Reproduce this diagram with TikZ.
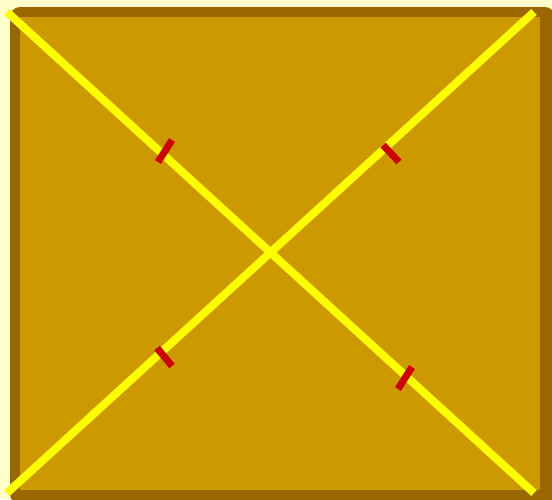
\documentclass[tikz,border=0pt]{standalone}
\definecolor{pale}{HTML}{FFFFCC}
\definecolor{frame}{HTML}{996600}
\definecolor{gold}{HTML}{CC9900}
\definecolor{diag}{HTML}{FFFF00}
\definecolor{tickred}{HTML}{CC0000}
\tikzset{
  diagline/.style={draw=diag,line width=8pt,line cap=butt},
  tickmark/.style={draw=tickred,line width=7pt,line cap=butt}
}
\begin{document}
\begin{tikzpicture}[x=1pt,y=-1pt]
\useasboundingbox (0,0) rectangle (552,499);
\fill[pale] (0,0) rectangle (552,499);
\fill[frame,rounded corners=10pt] (10,7) rectangle (555,504);
\fill[gold] (20,17) rectangle (540,490);
\coordinate (tl) at (7,12);
\coordinate (br) at (534,493);
\coordinate (bl) at (7,493);
\coordinate (tr) at (534,12);
\draw[diagline] (tl) -- (br);
\draw[diagline] (bl) -- (tr);
\coordinate (t1a) at (158,162);
\coordinate (t1b) at (172,140);
\coordinate (t2a) at (383,145);
\coordinate (t2b) at (399,162);
\coordinate (t3a) at (157,348);
\coordinate (t3b) at (172,366);
\coordinate (t4a) at (398,389);
\coordinate (t4b) at (412,367);
\draw[tickmark] (t1a) -- (t1b);
\draw[tickmark] (t2a) -- (t2b);
\draw[tickmark] (t3a) -- (t3b);
\draw[tickmark] (t4a) -- (t4b);
\end{tikzpicture}
\end{document}
